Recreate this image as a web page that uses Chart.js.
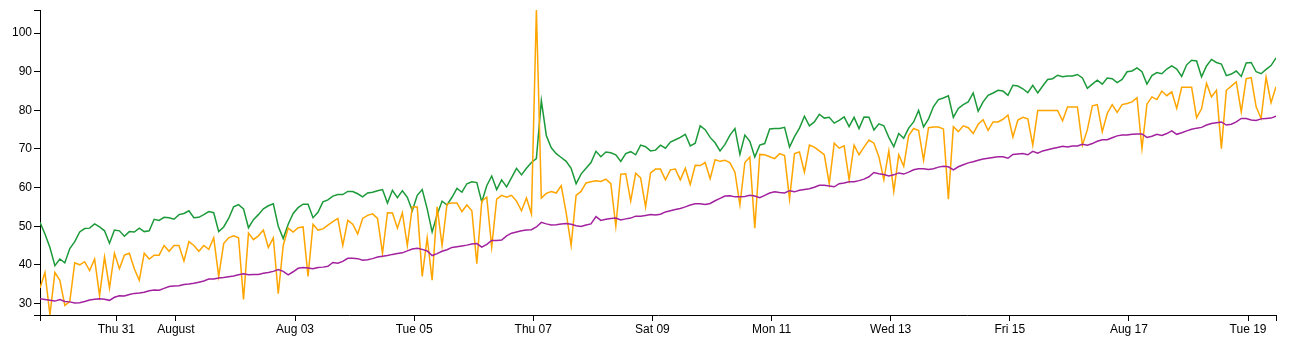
<!DOCTYPE html>
<html>
<head>
<meta charset="utf-8">
<script src="https://cdn.jsdelivr.net/npm/chart.js@4.4.1/dist/chart.umd.min.js"></script>
<style>
html,body{margin:0;padding:0;background:#fff;}
#c{display:block;}
</style>
</head>
<body>
<canvas id="c" width="1305" height="347"></canvas>
<script>
// Time: hours since Jul 29 00:00, one reading every 2 hours
const startHour = 17.25;
const stepHours = 2;

// tick positions (hours since Jul 29 00:00) and their labels
const tickHours = [48, 72, 120, 168, 216, 264, 312, 360, 408, 456, 504];
const tickLabels = ['Thu 31', 'August', 'Aug 03', 'Tue 05', 'Thu 07', 'Sat 09', 'Mon 11', 'Wed 13', 'Fri 15', 'Aug 17', 'Tue 19'];
const yTicks = [30, 40, 50, 60, 70, 80, 90, 100];

const greenSeries = [
 51,48,44.5,39.8,41.5,40.5,44.2,46,48.5,49.4,49.5,50.6,49.8,48.8,45.6,49,48.8,47.4,48.6,48.5,49.5,48.6,48.8,51.8,51.5,52.3,52.2,51.8,53,53.3,54,52.2,52.3,53,53.8,53.5,
 48.6,49.8,52,55,55.6,54.5,49.6,51.7,53,54.5,55.3,55.8,50,46.8,50.5,53.3,54.8,55.7,55.7,52.2,53.6,56.3,56.8,57.8,58.2,58.2,59,59,58.4,57.6,58.6,58.8,59.2,59.5,56,59.3,57.4,59.2,57.5,54,
 58,59.5,54.5,48.5,53,56.5,55.5,57.5,59.8,58.8,61,61.5,61.3,56.3,60.5,63,59.5,62,60.2,62.6,65,63.3,65,66.5,67.5,82.5,73.5,70.3,68.8,67.8,66.8,65,61,63.5,65,66.5,69.4,68,69.2,69,
 68.5,66.8,68.8,69.3,68.5,71,70.6,69.5,69.7,71,70.2,71.8,72.4,73,73.8,70.8,71.5,76,75,73,71.6,69.5,71.2,73.6,75.3,68.6,73.6,72,67.9,71,71.4,75.2,75.3,75.3,75.6,70.5,73.2,75.4,78.5,76,77,
 79,78,78.2,76.7,77.4,78.3,75.8,78.2,75.3,78.3,78.2,74.9,76.5,76,73,70.6,74,72.8,75.4,77,80,75.7,77.8,81,82.8,83.2,83.8,78.2,80.5,81.5,82.2,84.5,79.8,82.2,83.9,84.5,85.2,85,83.9,86.5,
 86.3,85.6,84.6,86.5,84.5,86.3,88,88.2,89.1,88.7,88.9,88.9,89.3,88.4,85.7,86.8,87.8,86.8,88.4,88.2,87.2,88,90,90.2,91,90,86.8,89,89.8,89.5,90.7,91.5,90.7,88.8,91.8,93,92.8,88.7,91.5,93.2,92.4,92,89,89.4,90.2,88.8,92.3,92.4,90,89.5,90.6,91.6,93.6
];

const orangeSeries = [
 34,38,27,38,36,29.5,30.5,40.5,40,40.8,38.5,41.5,32,42,34,43,39,42.5,43,39,36,43,41.5,42.5,42.5,45,43.5,45,45,41,46,45,43.5,45,44,47,
 37,45.5,47,47.5,47,31,48.2,46.5,47.5,49,44.5,47,32.5,45,49.5,48.5,49.6,49.8,37,50.5,49,49.3,50.3,51.2,52,45,51.5,50.5,48,52,52.8,53.2,52,43,53.5,53.4,49.5,53.5,45,55,
 55,37,47,36,55,45,55.8,56,56,53.8,55.5,54,40.3,56.5,57.5,44.6,57,58,57.5,58,56.5,54,57.3,53.2,106,57.3,58.5,59,58.6,60.5,53.5,45,58,59,61.2,61.5,61.8,61.6,62.2,61,
 50,63.5,63.6,56.5,63.7,62.5,55,63.8,64.8,64.8,62,64.6,64.8,62,65,60.8,65.8,65.7,66.5,62.3,67.2,66.8,67.1,66.4,64,55.5,66.5,67.9,49.5,68.6,68.5,68,67.5,68.8,68.3,57,68.8,69.2,64,71,70.5,
 69.5,68.5,61,71.5,70.2,70.8,62,71,68.5,70.5,72.3,71.5,68,62,69.5,59,68.5,65.5,73.5,75.3,74.8,67.1,75.5,75.7,75.7,75.2,57,75.8,74.5,76,75.5,74,76.4,77.6,74.8,77,77,77.7,78.8,73.1,
 77.5,78.2,77.8,71,80,80,80,80,80,77.3,80.9,80.9,80.9,71,75,81.2,81.5,74.5,79.2,81.5,79.5,81.5,81.8,82.2,83.3,70.1,81.6,83.5,82.8,85,83.8,84.8,80.5,86,86,86,78.1,80.4,87,83.5,85.2,70.1,85.2,86.3,87.4,79.6,88.2,88.5,80.9,77.9,88.6,82,86.1
];

const purpleSeries = [
 31.2,31.0,30.8,30.6,31.0,30.5,30.4,30.1,30.2,30.5,30.9,31.1,31.2,31.1,30.8,31.6,32.0,31.9,32.3,32.6,32.7,32.9,33.3,33.5,33.4,33.9,34.4,34.5,34.6,34.9,35.0,35.2,35.5,35.8,36.3,36.3,
 36.6,36.7,36.9,37.1,37.4,37.7,37.4,37.5,37.5,37.8,38.0,38.3,38.8,38.3,37.4,38.2,39.1,39.3,39.2,39.0,39.3,39.4,39.6,40.6,40.4,40.9,41.7,41.7,41.6,41.2,41.3,41.6,42.0,42.2,42.4,42.7,42.9,43.1,43.6,44.1,44.3,
 44.0,43.6,42.4,42.9,43.5,43.9,44.5,44.7,44.9,45.1,45.4,45.5,44.6,45.3,46.3,46.3,46.4,47.5,48.2,48.5,48.8,49.0,49.1,49.8,51.0,50.6,50.3,50.4,50.6,50.7,50.5,50.1,49.9,50.3,50.6,52.5,51.5,51.8,52.0,52.1,
 51.6,51.9,52.1,52.6,52.6,52.8,53.0,52.9,53.1,53.7,54.0,54.3,54.6,55.0,55.5,55.8,55.8,55.6,55.9,56.6,57.2,57.8,57.9,57.6,57.6,57.7,58.0,57.8,57.4,58.0,58.6,58.9,58.7,58.6,59.2,58.9,59.3,59.5,59.7,60.1,60.6,
 60.6,60.4,60.2,61.0,61.2,61.5,61.5,61.8,62.2,62.8,63.9,63.6,63.4,63.0,63.3,63.8,63.5,64.0,64.6,64.9,64.9,64.7,64.9,65.3,65.5,65.4,64.6,65.4,65.9,66.4,66.7,67.1,67.4,67.6,67.8,68.0,68.0,67.6,68.6,68.7,
 68.8,68.5,69.4,68.9,69.5,69.8,70.1,70.4,70.7,70.5,70.8,70.8,71.2,71.0,71.4,72.0,72.4,72.4,72.9,73.4,73.6,73.6,73.8,73.9,73.9,73.0,73.3,73.8,73.5,74.0,74.7,73.8,74.2,74.7,75.1,75.4,75.6,76.2,76.6,76.8,77.0,76.2,76.4,77.0,77.9,77.9,77.5,77.4,77.8,77.9,78.0,78.5
];

const nPoints = Math.max(greenSeries.length, orangeSeries.length, purpleSeries.length);
const times = Array.from({length: nPoints}, (_, i) => startHour + i * stepHours);
const toPts = arr => arr.map((v, i) => ({x: times[i], y: v}));

const allVals = greenSeries.concat(orangeSeries, purpleSeries);
const yMin = Math.min(...allVals);
const yMax = Math.max(...allVals);
const xMin = times[0];
const xMax = times[times.length - 1];

const FONT = {family: '"Liberation Sans", Arial, Helvetica, sans-serif', size: 12};

const lineDs = (data, color) => ({
  data: toPts(data), borderColor: color, borderWidth: 1.5,
  pointRadius: 0, pointHoverRadius: 0, fill: false, tension: 0
});

new Chart(document.getElementById('c'), {
  type: 'line',
  data: {
    datasets: [
      lineDs(purpleSeries, '#a2219e'),
      lineDs(orangeSeries, '#ffa500'),
      lineDs(greenSeries, '#1c9a3a')
    ]
  },
  options: {
    responsive: false,
    animation: false,
    devicePixelRatio: 1,
    layout: {padding: {top: 10, right: 29, bottom: 0, left: 0}},
    plugins: {legend: {display: false}, tooltip: {enabled: false}},
    events: [],
    scales: {
      x: {
        type: 'linear', min: xMin, max: xMax,
        afterBuildTicks: s => { s.ticks = [xMin, ...tickHours, xMax].map(v => ({value: v})); },
        afterFit: s => { s.height = 32; },
        ticks: {
          autoSkip: false, maxRotation: 0, padding: 1, color: '#000', font: FONT,
          callback: v => { const k = tickHours.indexOf(v); return k >= 0 ? tickLabels[k] : ''; }
        },
        grid: {drawOnChartArea: false, drawTicks: true, tickLength: 6, color: '#000', lineWidth: 1},
        border: {display: true, color: '#000', width: 1}
      },
      y: {
        type: 'linear', min: yMin, max: yMax,
        afterBuildTicks: s => { s.ticks = [yMin, ...yTicks, yMax].map(v => ({value: v})); },
        afterFit: s => { s.width = 40; },
        ticks: {
          padding: 2, color: '#000', font: FONT,
          callback: v => (yTicks.indexOf(v) >= 0 ? String(v) : '')
        },
        grid: {drawOnChartArea: false, drawTicks: true, tickLength: 6, color: '#000', lineWidth: 1},
        border: {display: true, color: '#000', width: 1}
      }
    }
  }
});
</script>
</body>
</html>
